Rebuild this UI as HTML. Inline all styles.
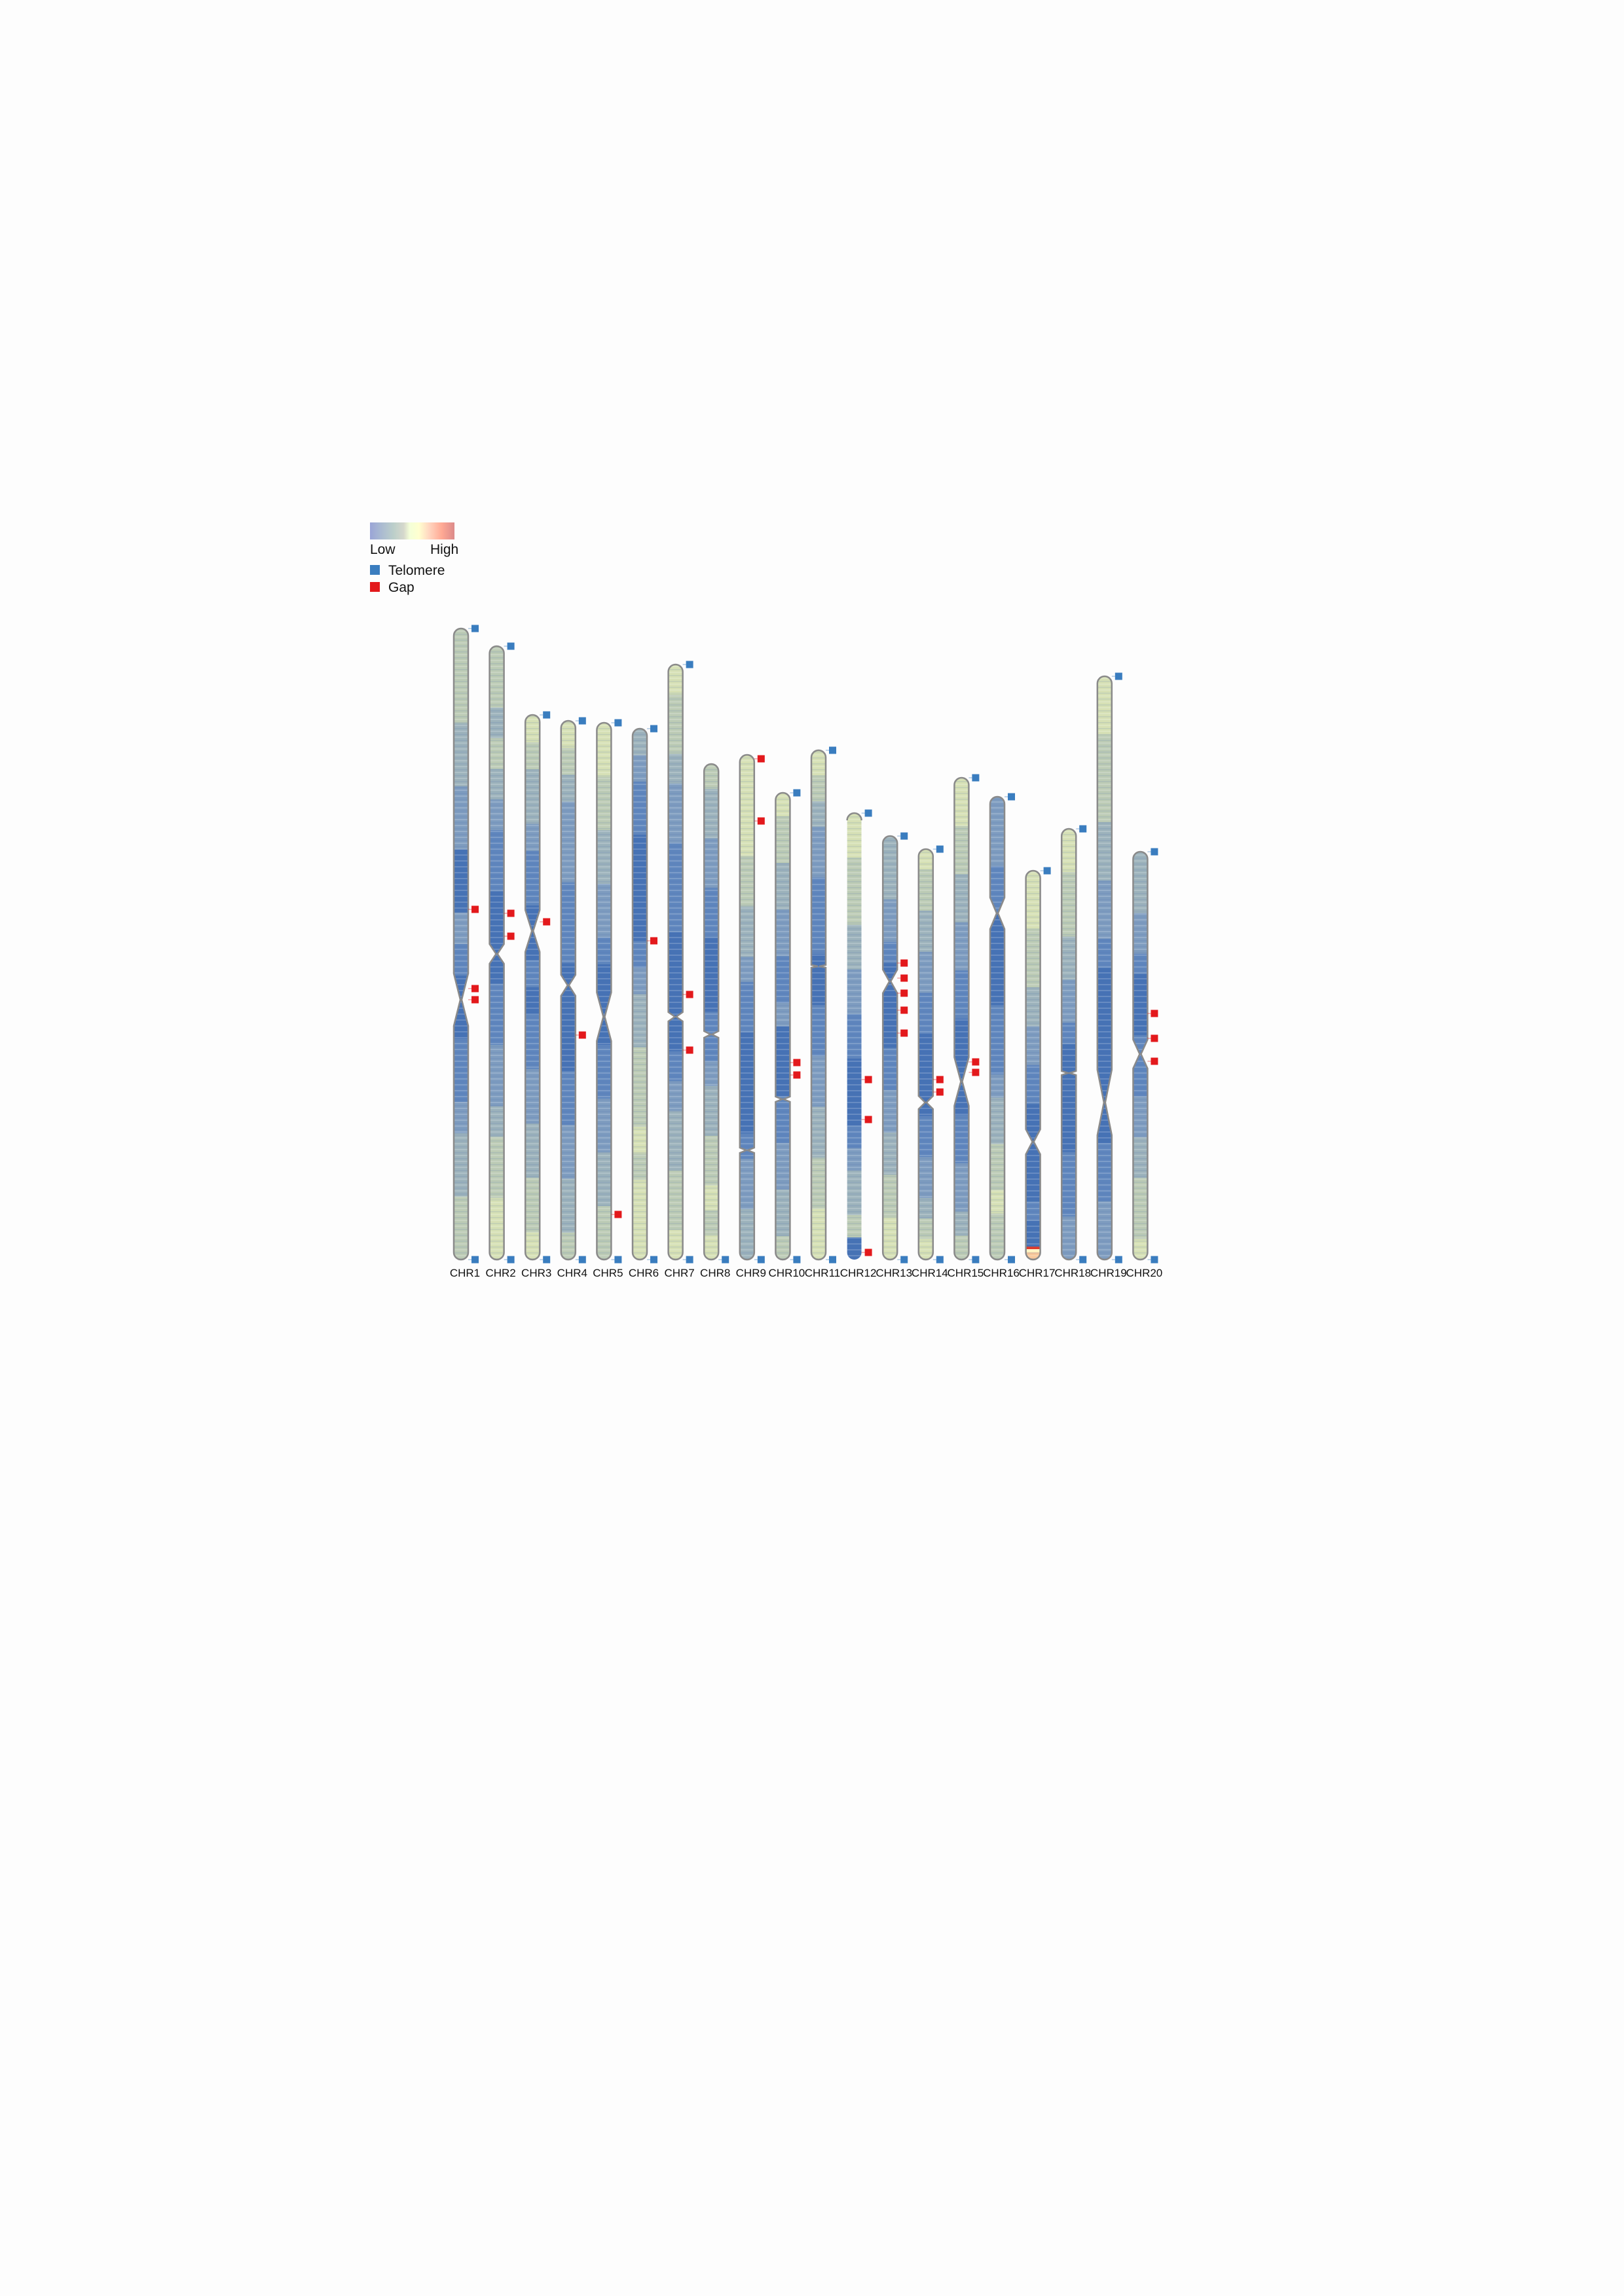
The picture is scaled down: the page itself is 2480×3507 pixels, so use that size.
<!DOCTYPE html>
<html><head><meta charset="utf-8"><title>Chromosome density ideogram</title>
<style>html,body{margin:0;padding:0;background:#fdfdfd;}svg{display:block;}text{font-family:"Liberation Sans",sans-serif;}</style>
</head><body>
<svg id="chart" width="2480" height="3507" viewBox="0 0 2480 3507" xmlns="http://www.w3.org/2000/svg">
<defs>
<linearGradient id="cbar" x1="0" x2="1" y1="0" y2="0">
<stop offset="0" stop-color="#9aa4d6"/><stop offset="0.12" stop-color="#a8b8d2"/><stop offset="0.28" stop-color="#bccfca"/><stop offset="0.4" stop-color="#d6d8cc"/><stop offset="0.47" stop-color="#f4ffd8"/><stop offset="0.58" stop-color="#ffffd0"/><stop offset="0.7" stop-color="#ffd6c0"/><stop offset="0.85" stop-color="#ffa994"/><stop offset="1" stop-color="#dc8a8a"/>
</linearGradient>
<pattern id="stripes" width="22" height="9" patternUnits="userSpaceOnUse">
<rect x="0" y="0" width="22" height="2" fill="#ffffff" opacity="0.18"/>
<rect x="0" y="5" width="22" height="1.5" fill="#4a70b0" opacity="0.16"/>
</pattern>
</defs>
<g>
<rect x="565" y="798" width="129" height="26" fill="url(#cbar)"/>
<text x="565" y="846" font-size="21" fill="#111">Low</text>
<text x="657" y="846" font-size="21" fill="#111">High</text>
<rect x="565" y="863" width="15" height="15" fill="#3a7dbf"/>
<text x="593" y="878" font-size="21" fill="#111">Telomere</text>
<rect x="565" y="889" width="15" height="15" fill="#e3191c"/>
<text x="593" y="904" font-size="21" fill="#111">Gap</text>
</g>
<g id="chroms"></g>
</svg>
<script>
const names = ["CHR1","CHR2","CHR3","CHR4","CHR5","CHR6","CHR7","CHR8","CHR9","CHR10","CHR11","CHR12","CHR13","CHR14","CHR15","CHR16","CHR17","CHR18","CHR19","CHR20"];
const tops = [960,987,1092,1101,1104,1113,1015,1167,1153,1211,1146,1242,1277,1297,1188,1217,1330,1266,1033,1301];
const bottoms = [1924,1924,1924,1924,1924,1924,1924,1924,1924,1924,1924,1924,1924,1924,1924,1924,1924,1924,1924,1924];
const centromeres = [1527,1457,1422,1505,1553,null,1553,1580,1757,1679,1476,null,1499,1684,1652,1395,1744,1639,1684,1610];
const cenHalf = [40,15,32,16,37,0,7,5,4,4,2,0,18,10,37,24,19,3,50,22];
const profiles = ["44433220021001123344","44343211000112234455","54332110010112233445","54322211100001122334","55443322100011223344","32110000123344454555","54432211100001233445","43322110001123344545","55554433211000012233","54433221120001122334","54322111001122334455","55444332211000123340","33322100001122334455","54433221100001122345","55443322110000112234","22211000011123344544","55544433221100000100","55444332210000011122","55444332210000001122","33322100011122334445"];
const topTelomere = [1,1,1,1,1,1,1,0,0,1,1,1,1,1,1,1,1,1,1,1];
const bottomTelomere = [1,1,1,1,1,1,1,1,1,1,1,0,1,1,1,1,0,1,1,1];
const gaps = [[1389,1510,1527],[1395,1430],[1408],[1581],[1855],[1437],[1519,1604],[],[1159,1254],[1623,1642],[],[1649,1710,1913],[1471,1494,1517,1543,1578],[1649,1668],[1622,1638],[],[],[],[],[1548,1586,1621]];

const levelColors = ["#4672b5","#5f86bd","#7e9cbf","#9cb2bb","#bccbb5","#d6e0b5"];
const NS = "http://www.w3.org/2000/svg";
const g = document.getElementById('chroms');
const x0 = 704, dx = 54.6, hw = 11;
function xPos(i){ return x0 + dx*i; }
function mk(tag, attrs){ const e=document.createElementNS(NS,tag); for(const k in attrs) e.setAttribute(k,attrs[k]); return e; }

function outline(cx, top, bot, cen, h){
  const l=cx-hw, r=cx+hw;
  let d = `M${l},${top+hw} A${hw},${hw} 0 0 1 ${r},${top+hw} `;
  if(cen!==null && h>0){
    d += `L${r},${cen-h} L${cx+1},${cen} L${r},${cen+h} `;
  }
  d += `L${r},${bot-hw} A${hw},${hw} 0 0 1 ${l},${bot-hw} `;
  if(cen!==null && h>0){
    d += `L${l},${cen+h} L${cx-1},${cen} L${l},${cen-h} `;
  }
  d += 'Z';
  return d;
}

names.forEach((nm,i)=>{
  const cx = xPos(i), top=tops[i], bot=bottoms[i], cen=centromeres[i], h=cenHalf[i];
  const grp = mk('g',{});
  
  
  const cp = mk('clipPath',{id:'cp'+i});
  const d = outline(cx,top,bot,cen,h);
  cp.appendChild(mk('path',{d:d}));
  grp.appendChild(cp);
  const bands = mk('g',{'clip-path':'url(#cp'+i+')'});
  const prof = profiles[i];
  const segH = (bot-top)/prof.length;
  for(let s=0;s<prof.length;s++){
    const lv = +prof[s];
    const band = mk('rect',{x:cx-hw,y:(top+s*segH).toFixed(1),width:hw*2,height:(segH+0.6).toFixed(1),fill:levelColors[lv]});
    
    
    bands.appendChild(band);
  }
  if(nm==="CHR17"){
    const cap = mk('rect',{x:cx-hw,y:bot-16,width:hw*2,height:16,fill:'#f7c79a'});
    
    
    bands.appendChild(cap);
    bands.appendChild(mk('rect',{x:cx-hw,y:bot-16,width:hw*2,height:5,fill:'#fff3c0'}));
    bands.appendChild(mk('rect',{x:cx-hw,y:bot-20,width:hw*2,height:4,fill:'#e03a2a'}));
  }
  bands.appendChild(mk('rect',{x:cx-hw,y:top,width:hw*2,height:bot-top,fill:'url(#stripes)'}));
  grp.appendChild(bands);
  if(nm==="CHR12"){
    grp.appendChild(mk('path',{d:`M${cx-hw},${top+hw} A${hw},${hw} 0 0 1 ${cx+hw},${top+hw}`,fill:'none',stroke:'#8a8a8a','stroke-width':2.5}));
  } else {
    grp.appendChild(mk('path',{d:d,fill:'none',stroke:'#8a8a8a','stroke-width':2.5}));
  }
  function marker(y,color,name){
    grp.appendChild(mk('line',{x1:cx+hw,y1:y,x2:cx+16,y2:y,stroke:color,'stroke-width':1,opacity:0.6}));
    const m = mk('rect',{x:cx+16,y:y-5.5,width:11,height:11,fill:color});
    
    
    grp.appendChild(m);
  }
  if(topTelomere[i]) marker(top,'#3a7dbf','telomere-top');
  if(bottomTelomere[i]) marker(bot,'#3a7dbf','telomere-bottom');
  gaps[i].forEach(y=>marker(y,'#e3191c','gap-marker'));
  const t = mk('text',{x:cx+6,y:1950,'font-size':17,'text-anchor':'middle',fill:'#111'});
  
  
  t.textContent = nm;
  grp.appendChild(t);
  g.appendChild(grp);
});
</script>
</body></html>
